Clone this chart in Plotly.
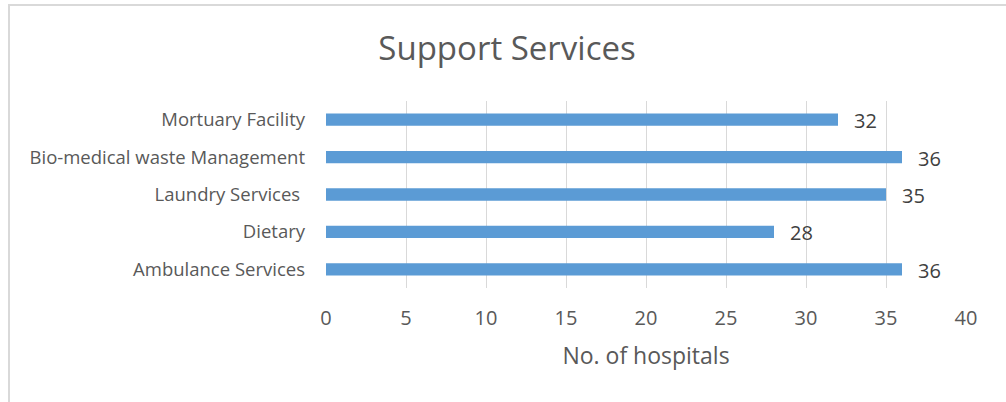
import plotly.graph_objects as go

categories = ["Ambulance Services", "Dietary", "Laundry Services ", "Bio-medical waste Management", "Mortuary Facility"]
values = [36, 28, 35, 36, 32]
x_ticks = [0, 5, 10, 15, 20, 25, 30, 35, 40]

FONT = "Open Sans"
TXT = "#595959"

L, R, T, B = 326, 40, 101, 114
W, H = 1006, 402
pw, ph = W - L - R, H - T - B


def px(x):
    return (x - L) / pw


def py(y):
    return (H - B - y) / ph


fig = go.Figure()
fig.add_trace(go.Bar(
    y=categories, x=values, orientation="h",
    marker=dict(color="#5B9BD5", line=dict(width=0)),
    width=0.33, hoverinfo="x+y",
))
for c, v in zip(categories, values):
    fig.add_annotation(x=v, y=c, text=str(v), showarrow=False, xanchor="left",
                       xshift=14, yshift=-1, font=dict(family=FONT, size=20, color="#404040"))

# chart-area border (left and top)
fig.add_shape(type="line", xref="paper", yref="paper", x0=px(9), x1=px(9), y0=py(4), y1=py(402),
              line=dict(color="#d9d9d9", width=2))
fig.add_shape(type="line", xref="paper", yref="paper", x0=px(8), x1=px(1006), y0=py(5), y1=py(5),
              line=dict(color="#d9d9d9", width=2))

fig.update_layout(
    width=W, height=H,
    margin=dict(l=L, r=R, t=T, b=B),
    paper_bgcolor="white", plot_bgcolor="white",
    showlegend=False,
    title=dict(text="Support Services", x=0.504, xanchor="center", y=1 - 48 / H, yanchor="middle",
               font=dict(family=FONT, size=33, color=TXT)),
    xaxis=dict(range=[0, 40], tickvals=x_ticks, showgrid=True, gridcolor="#d9d9d9", gridwidth=1,
               zeroline=False, showline=False, ticks="", ticklabelstandoff=16,
               tickfont=dict(family=FONT, size=20, color=TXT),
               title=dict(text="No. of hospitals", standoff=17, font=dict(family=FONT, size=23, color=TXT))),
    yaxis=dict(showgrid=False, zeroline=False, showline=False, ticks="",
               ticklabelstandoff=20, tickfont=dict(family=FONT, size=18.5, color=TXT)),
)
fig.write_html("out.html", config={"displayModeBar": False},
               post_script="document.body.style.margin='0';")
